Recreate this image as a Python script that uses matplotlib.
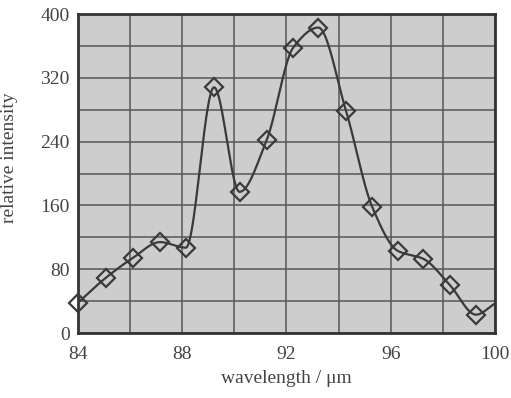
import numpy as np
import matplotlib
matplotlib.use("Agg")
import matplotlib.pyplot as plt

# values
wavelength = [84.0, 85.06, 86.1, 87.15, 88.14, 89.22, 90.2, 91.24, 92.26,
              93.22, 94.28, 95.29, 96.27, 97.25, 98.27, 99.27]
intensity = [38, 69, 94, 114, 107, 308, 177, 242, 358,
             383, 279, 158, 103, 93, 60, 23]
# curve runs on to the right frame without a marker
line_end_x = 100.0
line_end_y = 37

x_ticks = [84, 88, 92, 96, 100]
y_ticks = [0, 80, 160, 240, 320, 400]


def smooth(xs, ys, n=40):
    # monotone cubic (Fritsch-Carlson) through the points, only to draw the curve
    xs = np.asarray(xs, float)
    ys = np.asarray(ys, float)
    h = np.diff(xs)
    d = np.diff(ys) / h
    k = len(xs)
    m = np.zeros(k)
    m[0], m[-1] = d[0], d[-1]
    for i in range(1, k - 1):
        if d[i - 1] * d[i] > 0:
            w1 = 2 * h[i] + h[i - 1]
            w2 = h[i] + 2 * h[i - 1]
            m[i] = (w1 + w2) / (w1 / d[i - 1] + w2 / d[i])
    out_x, out_y = [], []
    for i in range(k - 1):
        t = np.linspace(0, 1, n, endpoint=(i == k - 2))
        h00 = 2 * t ** 3 - 3 * t ** 2 + 1
        h10 = t ** 3 - 2 * t ** 2 + t
        h01 = -2 * t ** 3 + 3 * t ** 2
        h11 = t ** 3 - t ** 2
        y = h00 * ys[i] + h10 * h[i] * m[i] + h01 * ys[i + 1] + h11 * h[i] * m[i + 1]
        out_x.extend(xs[i] + t * h[i])
        out_y.extend(y)
    return np.array(out_x), np.array(out_y)


plt.rcParams['font.family'] = ['Liberation Serif', 'DejaVu Serif']

fig = plt.figure(figsize=(5.11, 3.98), dpi=100)
ax = fig.add_axes([0.1526, 0.1633, 0.8161, 0.8015])
ax.set_facecolor('#cdcdcd')

sx, sy = smooth(wavelength + [line_end_x], intensity + [line_end_y])
ax.plot(sx, sy, color='#3a3a3a', lw=1.6, zorder=3)
ax.plot(wavelength, intensity, ls='none', marker='D', markersize=9,
        markerfacecolor='none', markeredgecolor='#3a3a3a', markeredgewidth=1.6,
        zorder=4, clip_on=False)

ax.set_xlim(84, 100)
ax.set_ylim(0, 400)
ax.set_xticks(x_ticks)
ax.set_yticks(y_ticks)
ax.set_xticks(np.arange(84, 101, 2), minor=True)
ax.set_yticks(np.arange(0, 401, 40), minor=True)
ax.grid(which='both', color='#555555', lw=1.1)
ax.set_axisbelow(True)
ax.tick_params(which='both', length=0, labelsize=14, labelcolor='#444444')
ax.tick_params(axis='x', pad=9)
ax.tick_params(axis='y', pad=6)

for s in ax.spines.values():
    s.set_color('#333333')
    s.set_linewidth(2)

ax.set_xlabel('wavelength / μm', fontsize=14, color='#444444')
ax.xaxis.set_label_coords(0.5, -0.115)
ax.set_ylabel('relative intensity', fontsize=14, color='#444444')
ax.yaxis.set_label_coords(-0.143, 0.55)

fig.savefig('out.png', dpi=100)
